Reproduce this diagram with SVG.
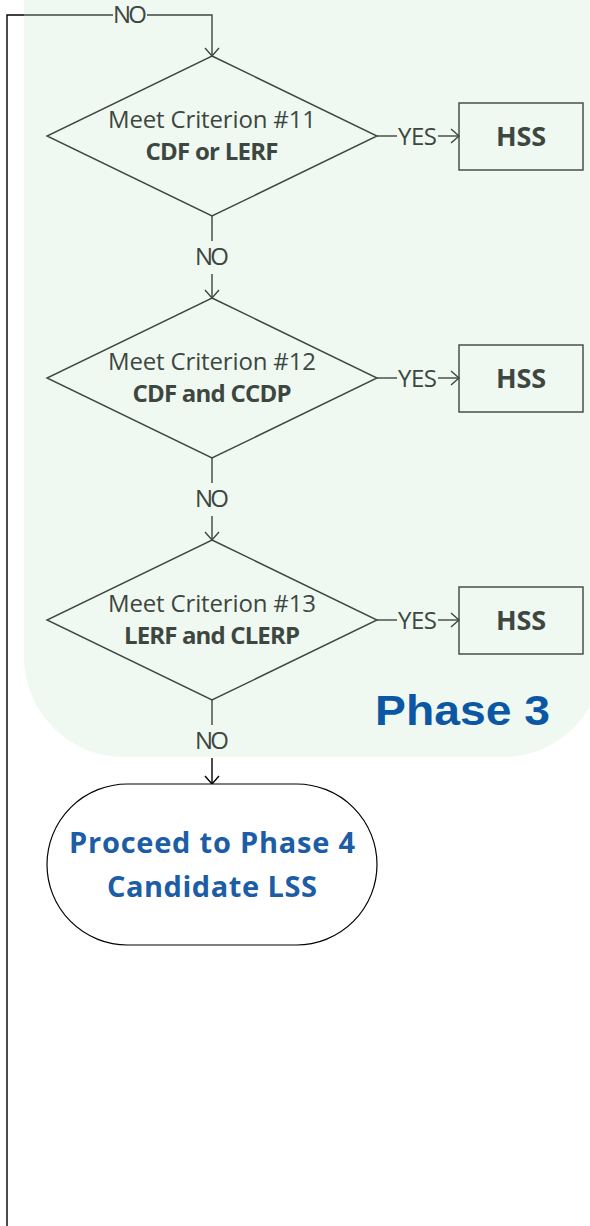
<svg xmlns="http://www.w3.org/2000/svg" width="590" height="1226" viewBox="0 0 590 1226">
  <style>
    .bg { fill: #ffffff; }
    .panel { fill: #eff9f2; stroke: none; }
    .ln { fill: none; stroke: #3d4740; stroke-width: 1.4; }
    .lnk { fill: none; stroke: #000000; stroke-width: 1.4; }
    .shape { fill: none; stroke: #3d4740; stroke-width: 1.4; }
    .lbl { font-family: "Open Sans", "Liberation Sans", sans-serif; font-size: 24px; fill: #3d4740; text-anchor: middle; }
    .bold { font-weight: 700; }
    .hss { font-family: "Open Sans", "Liberation Sans", sans-serif; font-size: 27px; font-weight: 700; fill: #3d4740; text-anchor: middle; }
    .term { font-family: "Open Sans", "Liberation Sans", sans-serif; font-size: 29px; font-weight: 700; fill: #1c5da5; text-anchor: middle; }
    .phase { font-family: "Liberation Sans", "Open Sans", sans-serif; font-size: 43px; font-weight: 700; fill: #0b57a4; }
  </style>
  <defs>
    <marker id="arrG" viewBox="-10 -10 12 20" markerWidth="12" markerHeight="20" refX="0" refY="0" orient="auto" markerUnits="userSpaceOnUse">
      <path d="M-8,-7 L0,0 L-8,7" fill="none" stroke="#3d4740" stroke-width="1.4"/>
    </marker>
    <marker id="arrK" viewBox="-10 -10 12 20" markerWidth="12" markerHeight="20" refX="0" refY="0" orient="auto" markerUnits="userSpaceOnUse">
      <path d="M-8,-7 L0,0 L-8,7" fill="none" stroke="#000000" stroke-width="1.4"/>
    </marker>
  </defs>

  <rect class="bg" x="0" y="0" width="590" height="1226"/>

  <!-- Phase 3 panel -->
  <g id="phase3-panel">
    <path class="panel" d="M24,-10 H603 V657 A100,100 0 0 1 503,757 H124 A100,100 0 0 1 24,657 Z"/>
    <text class="phase" x="375" y="725" textLength="175" lengthAdjust="spacingAndGlyphs">Phase 3</text>
  </g>

  <!-- connectors -->
  <g id="connectors">
    <!-- loop-back line entering from the left -->
    <polyline class="lnk" stroke-width="2" points="7,1226 7,15 24,15"/>
    <polyline class="ln" points="24,15 113,15"/>
    <polyline class="ln" points="147,15 212,15 212,56" marker-end="url(#arrG)"/>
    <text class="lbl" x="130" y="23" textLength="34">NO</text>

    <!-- criterion 11 -->
    <line class="ln" x1="377" y1="136" x2="397" y2="136"/>
    <text class="lbl" x="417.5" y="145" textLength="39">YES</text>
    <line class="ln" x1="438" y1="136" x2="459" y2="136" marker-end="url(#arrG)"/>
    <line class="ln" x1="212" y1="216" x2="212" y2="241"/>
    <text class="lbl" x="212" y="265" textLength="34">NO</text>
    <line class="ln" x1="212" y1="274" x2="212" y2="298" marker-end="url(#arrG)"/>

    <!-- criterion 12 -->
    <line class="ln" x1="377" y1="378" x2="397" y2="378"/>
    <text class="lbl" x="417.5" y="387" textLength="39">YES</text>
    <line class="ln" x1="438" y1="378" x2="459" y2="378" marker-end="url(#arrG)"/>
    <line class="ln" x1="212" y1="458" x2="212" y2="483"/>
    <text class="lbl" x="212" y="507" textLength="34">NO</text>
    <line class="ln" x1="212" y1="516" x2="212" y2="540" marker-end="url(#arrG)"/>

    <!-- criterion 13 -->
    <line class="ln" x1="377" y1="620" x2="397" y2="620"/>
    <text class="lbl" x="417.5" y="629" textLength="39">YES</text>
    <line class="ln" x1="438" y1="620" x2="459" y2="620" marker-end="url(#arrG)"/>
    <line class="ln" x1="212" y1="700" x2="212" y2="725"/>
    <text class="lbl" x="212" y="749" textLength="34">NO</text>
    <line class="lnk" x1="212" y1="758" x2="212" y2="784" marker-end="url(#arrK)"/>
  </g>

  <!-- decision: criterion 11 -->
  <g id="crit11">
    <polygon class="shape" points="212,56 377,136 212,216 47,136"/>
    <text class="lbl" x="212" y="128" textLength="208">Meet Criterion #11</text>
    <text class="lbl bold" x="212" y="160" textLength="133">CDF or LERF</text>
  </g>
  <g id="hss11">
    <rect class="shape" x="459" y="103" width="124" height="67"/>
    <text class="hss" x="521" y="146" textLength="50">HSS</text>
  </g>

  <!-- decision: criterion 12 -->
  <g id="crit12">
    <polygon class="shape" points="212,298 377,378 212,458 47,378"/>
    <text class="lbl" x="212" y="370" textLength="208">Meet Criterion #12</text>
    <text class="lbl bold" x="212" y="402" textLength="159">CDF and CCDP</text>
  </g>
  <g id="hss12">
    <rect class="shape" x="459" y="345" width="124" height="67"/>
    <text class="hss" x="521" y="388" textLength="50">HSS</text>
  </g>

  <!-- decision: criterion 13 -->
  <g id="crit13">
    <polygon class="shape" points="212,540 377,620 212,700 47,620"/>
    <text class="lbl" x="212" y="612" textLength="208">Meet Criterion #13</text>
    <text class="lbl bold" x="212" y="644" textLength="176">LERF and CLERP</text>
  </g>
  <g id="hss13">
    <rect class="shape" x="459" y="587" width="124" height="67"/>
    <text class="hss" x="521" y="630" textLength="50">HSS</text>
  </g>

  <!-- terminator -->
  <g id="phase4">
    <rect x="47" y="784" width="330" height="161" rx="80.5" ry="80.5" fill="#ffffff" stroke="#000000" stroke-width="1.2"/>
    <text class="term" x="212" y="853" textLength="286">Proceed to Phase 4</text>
    <text class="term" x="212" y="897" textLength="210">Candidate LSS</text>
  </g>
</svg>
